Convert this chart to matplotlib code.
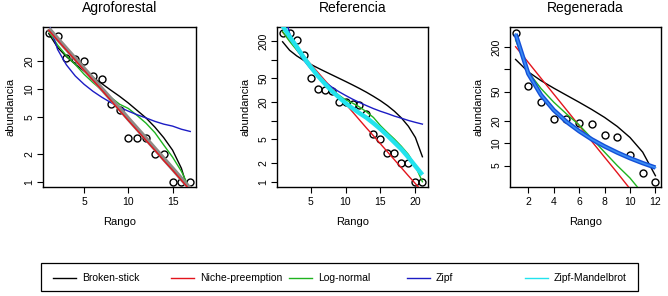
import matplotlib
matplotlib.use("Agg")
import matplotlib.pyplot as plt
from matplotlib.lines import Line2D
from matplotlib.patches import Rectangle

plt.rcParams['font.family'] = ['Liberation Sans', 'DejaVu Sans']

# ---- data (abundance by rank, fitted RAD models) ----
agro_abund = [40, 38, 22, 21, 20, 14, 13, 7, 6, 3, 3, 3, 2, 2, 1, 1, 1]
agro_bstick = [39.9, 28.3, 22.5, 18.6, 15.7, 13.4, 11.5, 9.8, 8.4, 7.1, 5.9, 4.9, 3.9, 3.0, 2.2, 1.4, 0.68]
agro_preemp = [43.3, 33.8, 26.4, 20.6, 16.0, 12.5, 9.8, 7.6, 5.9, 4.6, 3.6, 2.8, 2.2, 1.7, 1.34, 1.04, 0.81]
agro_lognorm = [42, 30, 23, 18.5, 14.5, 11.8, 9.8, 8.2, 6.9, 6.2, 5.2, 4.3, 3.4, 2.5, 1.85, 1.3, 0.82]
agro_zipf = [52, 26.9, 18.3, 13.9, 11.3, 9.5, 8.2, 7.2, 6.4, 5.8, 5.3, 4.9, 4.5, 4.2, 4.0, 3.7, 3.5]
agro_best = [45, 35, 27.3, 21.3, 16.6, 13, 10.1, 7.9, 6.2, 4.8, 3.75, 2.93, 2.28, 1.78, 1.39, 1.08, 0.84]

ref_abund = [277, 270, 210, 119, 50, 33, 32, 31, 20, 20, 19, 18, 13, 6, 5, 3, 3, 2, 2, 1, 1]
ref_bstick = [197, 143, 116, 97.9, 84.4, 73.6, 64.6, 56.9, 50.1, 44.1, 38.7, 33.8, 29.3, 25.1, 21.3, 17.7, 14.3, 11.1, 8.1, 5.3, 2.57]
ref_preemp = [283, 209, 155, 115, 85, 63, 46.5, 34.4, 25.5, 18.9, 14.0, 10.3, 7.6, 5.65, 4.18, 3.09, 2.29, 1.69, 1.25, 0.93, 0.69]
ref_lognorm = [290, 200, 145, 105, 78, 57, 43, 33, 26.5, 22, 19.5, 16.8, 14, 11.3, 8.3, 6.4, 5.0, 3.8, 2.8, 1.8, 1.0]
ref_zipf = [748, 272, 150, 99, 71.4, 54.7, 43.7, 35.9, 30.2, 26, 22.6, 19.9, 17.7, 15.8, 14.3, 13.1, 11.9, 11, 10.1, 9.4, 8.8]
ref_mandel = [360, 240, 165, 110, 77, 55, 41, 31, 24.5, 19.5, 16, 13.3, 11.2, 9.1, 7.3, 5.7, 4.4, 3.4, 2.5, 1.8, 1.3]

reg_abund = [313, 59, 36, 21, 21, 19, 18, 13, 12, 7, 4, 3]
reg_bstick = [136, 92.2, 70.3, 55.7, 44.7, 35.9, 28.6, 22.4, 16.9, 12.0, 7.6, 3.65]
reg_preemp = [202, 124, 75.7, 46.3, 28.4, 17.4, 10.6, 6.5, 4.0, 2.43, 1.49, 0.91]
reg_lognorm = [250, 92, 55, 36, 25, 17.7, 11.6, 7.6, 5.0, 3.4, 2.1, 1.2]
reg_zipf = [300, 87.2, 45, 28.1, 19.6, 14.6, 11.3, 9.1, 7.5, 6.3, 5.4, 4.7]

model_names = ["Broken-stick", "Niche-preemption", "Log-normal", "Zipf", "Zipf-Mandelbrot"]
model_colors = ["black", "#e3141c", "#1fb31f", "#1c1cc4", "#22e3ee"]

W, H = 668, 296
fig = plt.figure(figsize=(W / 100, H / 100), dpi=100)


def px_axes(left, right, top=27, bottom=187):
    return fig.add_axes([left / W, 1 - bottom / H, (right - left) / W, (bottom - top) / H])


def style(ax, title, xlim, ylim, xticks, yticks, ylabels):
    ax.set_yscale("log")
    ax.set_xlim(*xlim)
    ax.set_ylim(*ylim)
    ax.set_xticks(xticks)
    ax.set_xticklabels([str(t) for t in xticks], fontsize=7.5)
    ax.set_yticks(yticks)
    ax.set_yticklabels(ylabels, fontsize=7.5, rotation=90, va="center")
    ax.minorticks_off()
    ax.tick_params(axis="x", length=4, width=0.8, pad=3)
    ax.tick_params(axis="y", length=4, width=0.8, pad=2)
    for s in ax.spines.values():
        s.set_linewidth(1.0)
    ax.set_xlabel("Rango", fontsize=8)
    ax.xaxis.label.set_va("center")
    ax.xaxis.set_label_coords(0.5, -35 / 160)
    ax.set_ylabel("abundancia", fontsize=8)
    ax.yaxis.label.set_va("center")
    ax.yaxis.set_label_coords(-32 / 152, 0.5)
    ax.text(0.5, 1 + 19 / 160, title, transform=ax.transAxes, ha="center", va="center", fontsize=10)


def draw(ax, abund, fits, best, best_color):
    ranks = list(range(1, len(abund) + 1))
    ax.plot(ranks, abund, "o", mfc="none", mec="black", ms=5, mew=1.0, zorder=2)
    for vals, col in fits:
        ax.plot(ranks, vals, color=col, lw=1.0, zorder=3)
    ax.plot(ranks, best, color=best_color, lw=3.2, zorder=4, solid_capstyle="butt")


ax1 = px_axes(43, 196)
draw(ax1, agro_abund,
     [(agro_bstick, model_colors[0]), (agro_lognorm, model_colors[2]), (agro_zipf, model_colors[3])],
     agro_best, "#8e8a86")
ax1.plot(range(1, 18), agro_preemp, color=model_colors[1], lw=1.0, zorder=5)
style(ax1, "Agroforestal", (0.35, 17.65), (0.88, 47), [5, 10, 15], [1, 2, 5, 10, 20],
      ["1", "2", "5", "10", "20"])

ax2 = px_axes(277, 428)
draw(ax2, ref_abund,
     [(ref_bstick, model_colors[0]), (ref_preemp, model_colors[1]), (ref_lognorm, model_colors[2]),
      (ref_zipf, model_colors[3])],
     ref_mandel, model_colors[4])
style(ax2, "Referencia", (0.2, 21.8), (0.82, 344), [5, 10, 15, 20], [1, 2, 5, 10, 20, 50, 100, 200],
      ["1", "2", "5", "", "20", "50", "", "200"])

ax3 = px_axes(510, 661)
draw(ax3, reg_abund,
     [(reg_bstick, model_colors[0]), (reg_preemp, model_colors[1]), (reg_lognorm, model_colors[2])],
     reg_zipf, "#1450d8")
ax3.plot(range(1, 13), reg_zipf, color="#3a8cf2", lw=1.2, zorder=5)
style(ax3, "Regenerada", (0.56, 12.44), (2.57, 373), [2, 4, 6, 8, 10, 12], [5, 10, 20, 50, 100, 200],
      ["5", "10", "20", "50", "", "200"])

# ---- legend box along the bottom ----
fig.add_artist(Rectangle((41 / W, 1 - 291 / H), 597 / W, 28 / H, transform=fig.transFigure,
                         fill=False, lw=0.9, edgecolor="black"))
ly = 1 - 278 / H
for i, (name, col) in enumerate(zip(model_names, model_colors)):
    x0 = 53 + 118 * i
    fig.add_artist(Line2D([x0 / W, (x0 + 23) / W], [ly, ly], transform=fig.transFigure, color=col, lw=1.0))
    fig.text((x0 + 29) / W, ly, name, ha="left", va="center", fontsize=7.5)

fig.savefig("out.png", dpi=100)
